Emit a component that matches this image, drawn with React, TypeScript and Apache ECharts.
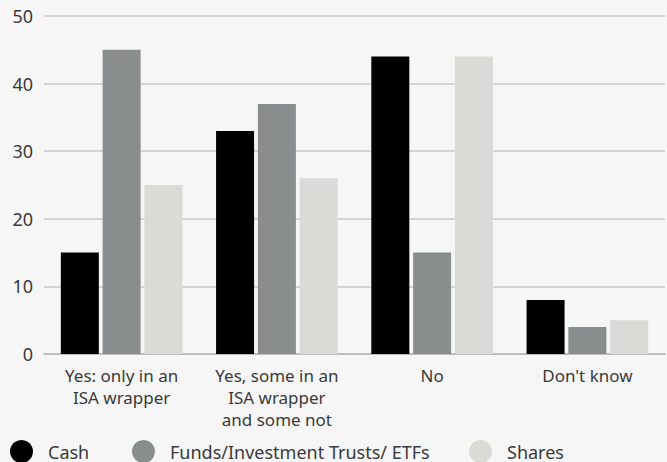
import React, { useEffect, useRef } from "react";
import * as echarts from "echarts";

const categories = ["Yes: only in an\nISA wrapper", "Yes, some in an\nISA wrapper\nand some not", "No", "Don't know"];
const cashValues = [15, 33, 44, 8];
const fundsValues = [45, 37, 15, 4];
const sharesValues = [25, 26, 44, 5];
const seriesNames = ["Cash", "Funds/Investment Trusts/ ETFs", "Shares"];
const seriesColors = ["#000000", "#8a8d8d", "#dadad6"];
const legendLefts = [10, 132, 469];

export default function App() {
  const ref = useRef<HTMLDivElement>(null);
  useEffect(() => {
    if (!ref.current) return;
    const chart = echarts.init(ref.current, undefined, { renderer: "svg" });
    const font = "Noto Sans";
    const values = [cashValues, fundsValues, sharesValues];
    chart.setOption({
      animation: false,
      backgroundColor: "#f6f6f6",
      textStyle: { fontFamily: font },
      grid: { left: 44, right: 2, top: 16, bottom: 108 },
      legend: seriesNames.map((n, i) => ({
        data: [n],
        left: legendLefts[i],
        top: 440,
        padding: 0,
        icon: "circle",
        itemWidth: 23,
        itemHeight: 23,
        itemGap: 0,
        selectedMode: false,
        textStyle: { fontFamily: font, fontSize: 18, color: "#3a3a3a", padding: [0, 0, 0, 10] },
      })),
      xAxis: {
        type: "category",
        data: categories,
        axisTick: { show: false },
        axisLine: { lineStyle: { color: "#bdbdbd", width: 2 } },
        axisLabel: { fontFamily: font, fontSize: 17, color: "#3a3a3a", lineHeight: 22, margin: 10, interval: 0 },
      },
      yAxis: {
        type: "value",
        min: 0,
        max: 50,
        interval: 10,
        axisLabel: { fontFamily: font, fontSize: 18, color: "#3a3a3a", margin: 11 },
        splitLine: { lineStyle: { color: "#c8c8c8", width: 1.5 } },
        axisLine: { show: false },
        axisTick: { show: false },
      },
      series: seriesNames.map((n, i) => ({
        name: n,
        type: "bar",
        data: values[i],
        barWidth: 38,
        barGap: "10%",
        itemStyle: { color: seriesColors[i] },
      })),
    });
    return () => chart.dispose();
  }, []);
  return <div ref={ref} style={{ width: 667, height: 462, position: "absolute", left: 0, top: 0 }} />;
}
